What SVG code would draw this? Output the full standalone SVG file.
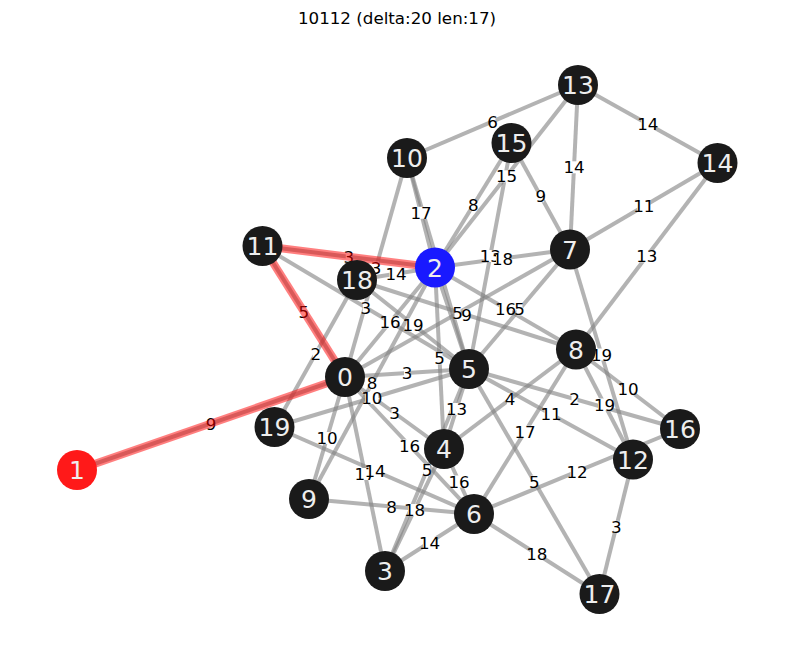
<svg xmlns="http://www.w3.org/2000/svg" width="794" height="658" viewBox="0 0 794 658">
<style>
.e{stroke:#808080;stroke-opacity:0.6;stroke-width:4;fill:none}
.r{stroke:#ff0000;stroke-opacity:0.5;stroke-width:8;fill:none}
.lb text{font-family:"DejaVu Sans",sans-serif;font-size:16.7px;fill:#000000;text-anchor:middle}
.n circle{fill:#1a1a1a}
.n text{font-family:"DejaVu Sans",sans-serif;font-size:25px;fill:#eeeeee;text-anchor:middle}
.title{font-family:"DejaVu Sans",sans-serif;font-size:16.7px;fill:#000000;text-anchor:middle}
</style>
<defs>
<rect id="b1" x="-3" y="-6" width="6" height="12" fill="#ffffff"/>
<rect id="b2" x="-6.5" y="-6" width="13" height="12" fill="#ffffff"/>
</defs>
<rect width="794" height="658" fill="#ffffff"/>
<text class="title" x="397" y="24">10112 (delta:20 len:17)</text>
<g id="edges">
<line class="e" x1="345" y1="377" x2="77" y2="470"/>
<line class="e" x1="345" y1="377" x2="262.5" y2="246"/>
<line class="e" x1="262.5" y1="246" x2="435" y2="267.5"/>
<line class="e" x1="407" y1="158" x2="578" y2="85"/>
<line class="e" x1="407" y1="158" x2="435" y2="267.5"/>
<line class="e" x1="407" y1="158" x2="469" y2="369"/>
<line class="e" x1="407" y1="158" x2="345" y2="377"/>
<line class="e" x1="511.5" y1="143" x2="435" y2="267.5"/>
<line class="e" x1="578" y1="85" x2="435" y2="267.5"/>
<line class="e" x1="511.5" y1="143" x2="570" y2="249.5"/>
<line class="e" x1="578" y1="85" x2="570" y2="249.5"/>
<line class="e" x1="578" y1="85" x2="717.5" y2="163"/>
<line class="e" x1="717.5" y1="163" x2="570" y2="249.5"/>
<line class="e" x1="717.5" y1="163" x2="576" y2="349.5"/>
<line class="e" x1="511.5" y1="143" x2="469" y2="369"/>
<line class="e" x1="435" y1="267.5" x2="570" y2="249.5"/>
<line class="e" x1="357" y1="280" x2="435" y2="267.5"/>
<line class="e" x1="262.5" y1="246" x2="469" y2="369"/>
<line class="e" x1="357" y1="280" x2="274.5" y2="427"/>
<line class="e" x1="435" y1="267.5" x2="345" y2="377"/>
<line class="e" x1="357" y1="280" x2="469" y2="369"/>
<line class="e" x1="570" y1="249.5" x2="345" y2="377"/>
<line class="e" x1="357" y1="280" x2="576" y2="349.5"/>
<line class="e" x1="435" y1="267.5" x2="576" y2="349.5"/>
<line class="e" x1="570" y1="249.5" x2="469" y2="369"/>
<line class="e" x1="435" y1="267.5" x2="444" y2="449"/>
<line class="e" x1="435" y1="267.5" x2="469" y2="369"/>
<line class="e" x1="345" y1="377" x2="469" y2="369"/>
<line class="e" x1="435" y1="267.5" x2="309" y2="499"/>
<line class="e" x1="274.5" y1="427" x2="469" y2="369"/>
<line class="e" x1="345" y1="377" x2="444" y2="449"/>
<line class="e" x1="469" y1="369" x2="444" y2="449"/>
<line class="e" x1="345" y1="377" x2="474" y2="514"/>
<line class="e" x1="345" y1="377" x2="309" y2="499"/>
<line class="e" x1="345" y1="377" x2="385" y2="571"/>
<line class="e" x1="274.5" y1="427" x2="474" y2="514"/>
<line class="e" x1="469" y1="369" x2="385" y2="571"/>
<line class="e" x1="444" y1="449" x2="474" y2="514"/>
<line class="e" x1="309" y1="499" x2="474" y2="514"/>
<line class="e" x1="444" y1="449" x2="385" y2="571"/>
<line class="e" x1="385" y1="571" x2="474" y2="514"/>
<line class="e" x1="576" y1="349.5" x2="444" y2="449"/>
<line class="e" x1="469" y1="369" x2="633" y2="459.5"/>
<line class="e" x1="469" y1="369" x2="680" y2="429"/>
<line class="e" x1="576" y1="349.5" x2="474" y2="514"/>
<line class="e" x1="570" y1="249.5" x2="633" y2="459.5"/>
<line class="e" x1="576" y1="349.5" x2="680" y2="429"/>
<line class="e" x1="576" y1="349.5" x2="633" y2="459.5"/>
<line class="e" x1="474" y1="514" x2="680" y2="429"/>
<line class="e" x1="469" y1="369" x2="599.5" y2="594"/>
<line class="e" x1="633" y1="459.5" x2="599.5" y2="594"/>
<line class="e" x1="474" y1="514" x2="599.5" y2="594"/>
</g>
<g id="edge-labels" class="lb">
<use href="#b1" x="211" y="423.5"/><text x="211" y="429.5">9</text>
<use href="#b1" x="303.8" y="311.5"/><text x="303.8" y="317.5">5</text>
<use href="#b1" x="348.8" y="256.8"/><text x="348.8" y="262.8">3</text>
<use href="#b1" x="492.5" y="121.5"/><text x="492.5" y="127.5">6</text>
<use href="#b2" x="421" y="212.8"/><text x="421" y="218.8">17</text>
<use href="#b1" x="376" y="267.5"/><text x="376" y="273.5">3</text>
<use href="#b1" x="473.3" y="205.3"/><text x="473.3" y="211.3">8</text>
<use href="#b2" x="506.5" y="176.3"/><text x="506.5" y="182.3">15</text>
<use href="#b1" x="540.8" y="196.3"/><text x="540.8" y="202.3">9</text>
<use href="#b2" x="574" y="167.3"/><text x="574" y="173.3">14</text>
<use href="#b2" x="647.8" y="124"/><text x="647.8" y="130">14</text>
<use href="#b2" x="643.8" y="206.3"/><text x="643.8" y="212.3">11</text>
<use href="#b2" x="646.8" y="256.3"/><text x="646.8" y="262.3">13</text>
<use href="#b2" x="490.3" y="256"/><text x="490.3" y="262">13</text>
<use href="#b2" x="502.5" y="258.5"/><text x="502.5" y="264.5">18</text>
<use href="#b2" x="396" y="273.8"/><text x="396" y="279.8">14</text>
<use href="#b1" x="365.8" y="307.5"/><text x="365.8" y="313.5">3</text>
<use href="#b1" x="315.8" y="353.5"/><text x="315.8" y="359.5">2</text>
<use href="#b2" x="390" y="322.3"/><text x="390" y="328.3">16</text>
<use href="#b2" x="413" y="324.5"/><text x="413" y="330.5">19</text>
<use href="#b1" x="457.5" y="313.3"/><text x="457.5" y="319.3">5</text>
<use href="#b1" x="466.5" y="314.8"/><text x="466.5" y="320.8">9</text>
<use href="#b2" x="505.5" y="308.5"/><text x="505.5" y="314.5">16</text>
<use href="#b1" x="519.5" y="309.3"/><text x="519.5" y="315.3">5</text>
<use href="#b1" x="439.5" y="358.3"/><text x="439.5" y="364.3">5</text>
<use href="#b1" x="407" y="373"/><text x="407" y="379">3</text>
<use href="#b1" x="372" y="383.3"/><text x="372" y="389.3">8</text>
<use href="#b2" x="371.8" y="398"/><text x="371.8" y="404">10</text>
<use href="#b1" x="394.5" y="413"/><text x="394.5" y="419">3</text>
<use href="#b2" x="456.5" y="409"/><text x="456.5" y="415">13</text>
<use href="#b2" x="409.5" y="445.5"/><text x="409.5" y="451.5">16</text>
<use href="#b2" x="327" y="438"/><text x="327" y="444">10</text>
<use href="#b2" x="365" y="474"/><text x="365" y="480">17</text>
<use href="#b2" x="375" y="470.5"/><text x="375" y="476.5">14</text>
<use href="#b1" x="427" y="470"/><text x="427" y="476">5</text>
<use href="#b2" x="459" y="481.5"/><text x="459" y="487.5">16</text>
<use href="#b1" x="391.5" y="506.5"/><text x="391.5" y="512.5">8</text>
<use href="#b2" x="414.5" y="510"/><text x="414.5" y="516">18</text>
<use href="#b2" x="429.5" y="542.5"/><text x="429.5" y="548.5">14</text>
<use href="#b1" x="510" y="399.3"/><text x="510" y="405.3">4</text>
<use href="#b2" x="551" y="414.3"/><text x="551" y="420.3">11</text>
<use href="#b1" x="574.5" y="399"/><text x="574.5" y="405">2</text>
<use href="#b2" x="525" y="431.8"/><text x="525" y="437.8">17</text>
<use href="#b2" x="601.5" y="354.5"/><text x="601.5" y="360.5">19</text>
<use href="#b2" x="628" y="389.3"/><text x="628" y="395.3">10</text>
<use href="#b2" x="604.5" y="404.5"/><text x="604.5" y="410.5">19</text>
<use href="#b2" x="577" y="471.5"/><text x="577" y="477.5">12</text>
<use href="#b1" x="534.3" y="481.5"/><text x="534.3" y="487.5">5</text>
<use href="#b1" x="616.3" y="526.8"/><text x="616.3" y="532.8">3</text>
<use href="#b2" x="536.8" y="554"/><text x="536.8" y="560">18</text>
</g>
<g id="highlight">
<line class="r" x1="345" y1="377" x2="77" y2="470"/>
<line class="r" x1="345" y1="377" x2="262.5" y2="246"/>
<line class="r" x1="262.5" y1="246" x2="435" y2="267.5"/>
</g>
<g id="node-0" class="n"><circle cx="345" cy="377" r="20"/><text x="345" y="386">0</text></g>
<g id="node-1" class="n"><circle cx="77" cy="470" r="20" style="fill:#ff1919"/><text x="77" y="479">1</text></g>
<g id="node-2" class="n"><circle cx="435" cy="267.5" r="20" style="fill:#1919ff"/><text x="435" y="276.5">2</text></g>
<g id="node-3" class="n"><circle cx="385" cy="571" r="20"/><text x="385" y="580">3</text></g>
<g id="node-4" class="n"><circle cx="444" cy="449" r="20"/><text x="444" y="458">4</text></g>
<g id="node-5" class="n"><circle cx="469" cy="369" r="20"/><text x="469" y="378">5</text></g>
<g id="node-6" class="n"><circle cx="474" cy="514" r="20"/><text x="474" y="523">6</text></g>
<g id="node-7" class="n"><circle cx="570" cy="249.5" r="20"/><text x="570" y="258.5">7</text></g>
<g id="node-8" class="n"><circle cx="576" cy="349.5" r="20"/><text x="576" y="358.5">8</text></g>
<g id="node-9" class="n"><circle cx="309" cy="499" r="20"/><text x="309" y="508">9</text></g>
<g id="node-10" class="n"><circle cx="407" cy="158" r="20"/><text x="407" y="167">10</text></g>
<g id="node-11" class="n"><circle cx="262.5" cy="246" r="20"/><text x="262.5" y="255">11</text></g>
<g id="node-12" class="n"><circle cx="633" cy="459.5" r="20"/><text x="633" y="468.5">12</text></g>
<g id="node-13" class="n"><circle cx="578" cy="85" r="20"/><text x="578" y="94">13</text></g>
<g id="node-14" class="n"><circle cx="717.5" cy="163" r="20"/><text x="717.5" y="172">14</text></g>
<g id="node-15" class="n"><circle cx="511.5" cy="143" r="20"/><text x="511.5" y="152">15</text></g>
<g id="node-16" class="n"><circle cx="680" cy="429" r="20"/><text x="680" y="438">16</text></g>
<g id="node-17" class="n"><circle cx="599.5" cy="594" r="20"/><text x="599.5" y="603">17</text></g>
<g id="node-18" class="n"><circle cx="357" cy="280" r="20"/><text x="357" y="289">18</text></g>
<g id="node-19" class="n"><circle cx="274.5" cy="427" r="20"/><text x="274.5" y="436">19</text></g>
</svg>
